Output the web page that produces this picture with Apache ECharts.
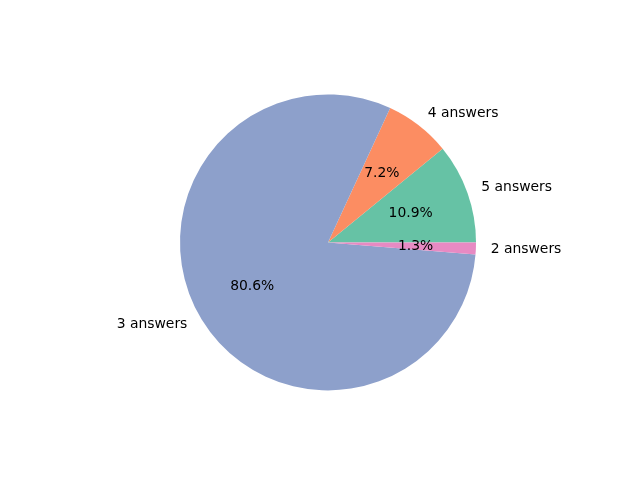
<!DOCTYPE html>
<html>
<head>
<meta charset="utf-8">
<script src="https://cdn.jsdelivr.net/npm/echarts@6/dist/echarts.min.js"></script>
<style>html,body{margin:0;padding:0;background:#fff}#c{width:640px;height:480px}</style>
</head>
<body>
<div id="c"></div>
<script>
const categories = ['5 answers', '4 answers', '3 answers', '2 answers'];
const percents = [10.9, 7.2, 80.6, 1.3];
const colors = ['#66c2a5', '#fc8d62', '#8da0cb', '#e78ac3'];

const R = 148;
const center = [328, 242.4];
const font = {fontFamily: 'DejaVu Sans', fontSize: 13.9, color: '#000'};

const chart = echarts.init(document.getElementById('c'));
chart.setOption({
  backgroundColor: '#fff',
  animation: false,
  series: [
    {
      type: 'pie',
      radius: [0, R],
      center: center,
      clockwise: false,
      startAngle: 0,
      avoidLabelOverlap: false,
      minAngle: 0,
      data: categories.map((n, i) => ({name: n, value: percents[i], itemStyle: {color: colors[i]}})),
      label: Object.assign({show: true, position: 'outside', formatter: '{b}', distanceToLabelLine: 0}, font),
      labelLine: {show: false, length: R * 0.1, length2: 0},
      emphasis: {disabled: true}
    },
    {
      type: 'pie',
      radius: [0, R * 1.145],
      center: center,
      clockwise: false,
      startAngle: 0,
      avoidLabelOverlap: false,
      silent: true,
      data: categories.map((n, i) => ({name: n, value: percents[i], itemStyle: {color: 'rgba(0,0,0,0)'}})),
      label: Object.assign({show: true, position: 'inside', formatter: p => p.value.toFixed(1) + '%'}, font),
      labelLine: {show: false},
      emphasis: {disabled: true}
    }
  ]
});
</script>
</body>
</html>
